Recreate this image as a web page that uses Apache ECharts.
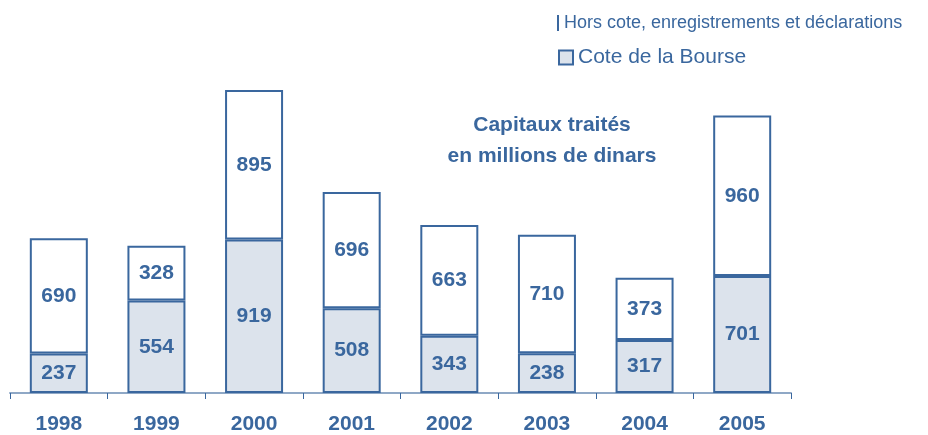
<!DOCTYPE html>
<html>

<head>
    <meta charset="utf-8">
    <title>Capitaux traités</title>
    <style>
        html, body { margin: 0; padding: 0; background: #fff; }
        #main { width: 928px; height: 435px; }
    </style>
</head>

<body>
    <div id="main"></div>
    <script src="https://cdn.jsdelivr.net/npm/echarts@6/dist/echarts.min.js"></script>
    <script>
    // données (millions de dinars)
    var years = ['1998', '1999', '2000', '2001', '2002', '2003', '2004', '2005'];
    var bourse = [237, 554, 919, 508, 343, 238, 317, 701];
    var horsCote = [690, 328, 895, 696, 663, 710, 373, 960];

    var blue = '#3a679e';
    var paleBlue = '#dce3ec';
    var nameBourse = 'Cote de la Bourse';
    var nameHors = 'Hors cote, enregistrements et déclarations';

    var myChart = echarts.init(document.getElementById('main'));

    var labelStyle = {
        show: true,
        position: 'inside',
        color: blue,
        fontFamily: 'Liberation Sans, Arial, sans-serif',
        fontWeight: 'bold',
        fontSize: 21
    };

    var option = {
        animation: false,
        grid: {
            left: 10,
            right: 137,
            top: 59,
            bottom: 42
        },
        legend: [{
            left: 552,
            top: 9,
            icon: 'rect',
            itemWidth: 2,
            itemHeight: 16,
            selectedMode: false,
            data: [{ name: nameHors, itemStyle: { color: blue, borderWidth: 0 } }],
            textStyle: {
                color: blue,
                fontFamily: 'Liberation Sans, Arial, sans-serif',
                fontSize: 18
            }
        }, {
            left: 553,
            top: 42,
            icon: 'rect',
            itemWidth: 14,
            itemHeight: 14,
            selectedMode: false,
            data: [nameBourse],
            textStyle: {
                color: blue,
                fontFamily: 'Liberation Sans, Arial, sans-serif',
                fontSize: 21
            }
        }],
        graphic: [{
            type: 'text',
            x: 552,
            y: 141,
            style: {
                text: 'Capitaux traités\nen millions de dinars',
                textAlign: 'center',
                textVerticalAlign: 'middle',
                lineHeight: 31,
                fill: blue,
                font: 'bold 21px "Liberation Sans", Arial, sans-serif'
            }
        }],
        xAxis: {
            type: 'category',
            data: years,
            axisLine: {
                lineStyle: { color: '#8fa8c6', width: 2 }
            },
            axisTick: {
                show: true,
                length: 6,
                lineStyle: { color: blue, width: 1 }
            },
            axisLabel: {
                margin: 21,
                color: blue,
                fontFamily: 'Liberation Sans, Arial, sans-serif',
                fontWeight: 'bold',
                fontSize: 21
            }
        },
        yAxis: {
            type: 'value',
            min: 0,
            max: 2000,
            show: false
        },
        series: [{
            name: nameBourse,
            type: 'bar',
            stack: 'total',
            barWidth: 58,
            data: bourse,
            itemStyle: {
                color: paleBlue,
                borderColor: blue,
                borderWidth: 2
            },
            label: labelStyle
        }, {
            name: nameHors,
            type: 'bar',
            stack: 'total',
            barWidth: 58,
            data: horsCote,
            itemStyle: {
                color: '#ffffff',
                borderColor: blue,
                borderWidth: 2
            },
            label: labelStyle
        }]
    };
    myChart.setOption(option);
    window.onresize = myChart.resize;
    </script>
</body>

</html>
